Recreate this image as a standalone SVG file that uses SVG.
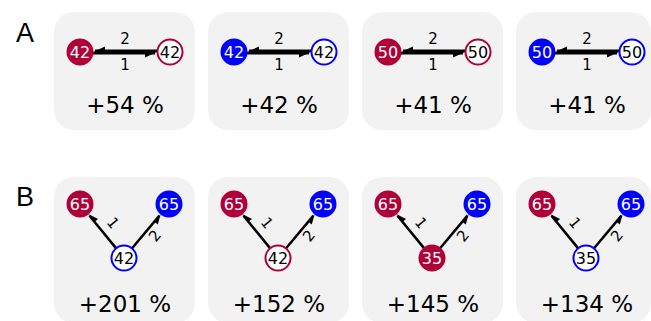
<svg xmlns="http://www.w3.org/2000/svg" width="651" height="321" viewBox="0 0 651 321">
<defs>
<style>
.panel{fill:#f2f2f2}
.pct{font-family:"DejaVu Sans",sans-serif;font-size:23px;fill:#000;text-anchor:middle}
.lbl{font-family:"DejaVu Sans",sans-serif;font-size:15px;fill:#000;text-anchor:middle}
.nt{font-family:"DejaVu Sans",sans-serif;font-size:16px;text-anchor:middle;dominant-baseline:central}
.w{fill:#fff}
.k{fill:#000}
.rf{fill:#b00038;stroke:#b00038;stroke-width:2}
.bf{fill:#0000ff;stroke:#0000ff;stroke-width:2}
.ro{fill:#fff;stroke:#b00038;stroke-width:2}
.bo{fill:#fff;stroke:#0000ff;stroke-width:2}
.e{stroke:#000;stroke-width:2.5;fill:none}
.h{fill:#000}
.big{font-family:"Liberation Sans",Arial,sans-serif;font-size:27px;fill:#000}
</style>
<g id="edgesA">
<line class="e" x1="157" y1="50.8" x2="95" y2="50.8"/>
<polygon class="h" points="93,52 105,52 105,46.6"/>
<line class="e" x1="93" y1="53.2" x2="155" y2="53.2"/>
<polygon class="h" points="157,52 145,52 145,57.4"/>
</g>
<g id="edgesB">
<line class="e" x1="115.8" y1="247.9" x2="89.5" y2="215.7"/>
<polygon class="h" points="88.2,214.1 94.5,221.9 98,219"/>
<line class="e" x1="132.3" y1="248" x2="159.4" y2="215.6"/>
<polygon class="h" points="160.7,214 154.3,221.7 157.8,224.6"/>
</g>
</defs>

<text class="big" x="16" y="42">A</text>
<text class="big" x="16" y="206">B</text>

<g id="panelA1"><rect class="panel" x="54" y="12" width="141" height="118" rx="20"/></g>
<g id="panelA2"><rect class="panel" x="208" y="12" width="141" height="118" rx="20"/></g>
<g id="panelA3"><rect class="panel" x="362" y="12" width="141" height="118" rx="20"/></g>
<g id="panelA4"><rect class="panel" x="516" y="12" width="135" height="118" rx="20"/></g>
<g id="panelB1"><rect class="panel" x="54" y="177" width="141" height="146" rx="20"/></g>
<g id="panelB2"><rect class="panel" x="208" y="177" width="141" height="146" rx="20"/></g>
<g id="panelB3"><rect class="panel" x="362" y="177" width="141" height="146" rx="20"/></g>
<g id="panelB4"><rect class="panel" x="516" y="177" width="135" height="146" rx="20"/></g>

<g id="connectors">
<use href="#edgesA" x="0"/>
<use href="#edgesA" x="154"/>
<use href="#edgesA" x="308"/>
<use href="#edgesA" x="462"/>
<use href="#edgesB" x="0"/>
<use href="#edgesB" x="154"/>
<use href="#edgesB" x="308"/>
<use href="#edgesB" x="462"/>
</g>

<g id="edge-labels">
<text class="lbl" x="125" y="44">2</text><text class="lbl" x="125" y="70">1</text>
<text class="lbl" x="279" y="44">2</text><text class="lbl" x="279" y="70">1</text>
<text class="lbl" x="433" y="44">2</text><text class="lbl" x="433" y="70">1</text>
<text class="lbl" x="587" y="44">2</text><text class="lbl" x="587" y="70">1</text>
<text class="lbl" transform="translate(113,223) rotate(51)" y="5">1</text>
<text class="lbl" transform="translate(155,236) rotate(-50)" y="5">2</text>
<text class="lbl" transform="translate(267,223) rotate(51)" y="5">1</text>
<text class="lbl" transform="translate(309,236) rotate(-50)" y="5">2</text>
<text class="lbl" transform="translate(421,223) rotate(51)" y="5">1</text>
<text class="lbl" transform="translate(463,236) rotate(-50)" y="5">2</text>
<text class="lbl" transform="translate(575,223) rotate(51)" y="5">1</text>
<text class="lbl" transform="translate(617,236) rotate(-50)" y="5">2</text>
</g>

<g id="nodeA1L"><circle class="rf" cx="80" cy="52" r="12.5"/><text class="nt w" x="80" y="52">42</text></g>
<g id="nodeA1R"><circle class="ro" cx="170" cy="52" r="12.5"/><text class="nt k" x="170" y="52">42</text></g>
<g id="nodeA2L"><circle class="bf" cx="234" cy="52" r="12.5"/><text class="nt w" x="234" y="52">42</text></g>
<g id="nodeA2R"><circle class="bo" cx="324" cy="52" r="12.5"/><text class="nt k" x="324" y="52">42</text></g>
<g id="nodeA3L"><circle class="rf" cx="388" cy="52" r="12.5"/><text class="nt w" x="388" y="52">50</text></g>
<g id="nodeA3R"><circle class="ro" cx="478" cy="52" r="12.5"/><text class="nt k" x="478" y="52">50</text></g>
<g id="nodeA4L"><circle class="bf" cx="542" cy="52" r="12.5"/><text class="nt w" x="542" y="52">50</text></g>
<g id="nodeA4R"><circle class="bo" cx="632" cy="52" r="12.5"/><text class="nt k" x="632" y="52">50</text></g>

<g id="nodeB1TL"><circle class="rf" cx="80" cy="204" r="12.5"/><text class="nt w" x="80" y="204">65</text></g>
<g id="nodeB1TR"><circle class="bf" cx="169" cy="204" r="12.5"/><text class="nt w" x="169" y="204">65</text></g>
<g id="nodeB1B"><circle class="bo" cx="124" cy="258" r="12.5"/><text class="nt k" x="124" y="258">42</text></g>
<g id="nodeB2TL"><circle class="rf" cx="234" cy="204" r="12.5"/><text class="nt w" x="234" y="204">65</text></g>
<g id="nodeB2TR"><circle class="bf" cx="323" cy="204" r="12.5"/><text class="nt w" x="323" y="204">65</text></g>
<g id="nodeB2B"><circle class="ro" cx="278" cy="258" r="12.5"/><text class="nt k" x="278" y="258">42</text></g>
<g id="nodeB3TL"><circle class="rf" cx="388" cy="204" r="12.5"/><text class="nt w" x="388" y="204">65</text></g>
<g id="nodeB3TR"><circle class="bf" cx="477" cy="204" r="12.5"/><text class="nt w" x="477" y="204">65</text></g>
<g id="nodeB3B"><circle class="rf" cx="432" cy="258" r="12.5"/><text class="nt w" x="432" y="258">35</text></g>
<g id="nodeB4TL"><circle class="rf" cx="542" cy="204" r="12.5"/><text class="nt w" x="542" y="204">65</text></g>
<g id="nodeB4TR"><circle class="bf" cx="631" cy="204" r="12.5"/><text class="nt w" x="631" y="204">65</text></g>
<g id="nodeB4B"><circle class="bo" cx="586" cy="258" r="12.5"/><text class="nt k" x="586" y="258">35</text></g>

<g id="percent">
<text class="pct" x="125" y="113">+54 %</text>
<text class="pct" x="279" y="113">+42 %</text>
<text class="pct" x="433" y="113">+41 %</text>
<text class="pct" x="587" y="113">+41 %</text>
<text class="pct" x="125" y="312">+201 %</text>
<text class="pct" x="279" y="312">+152 %</text>
<text class="pct" x="433" y="312">+145 %</text>
<text class="pct" x="587" y="312">+134 %</text>
</g>
</svg>
